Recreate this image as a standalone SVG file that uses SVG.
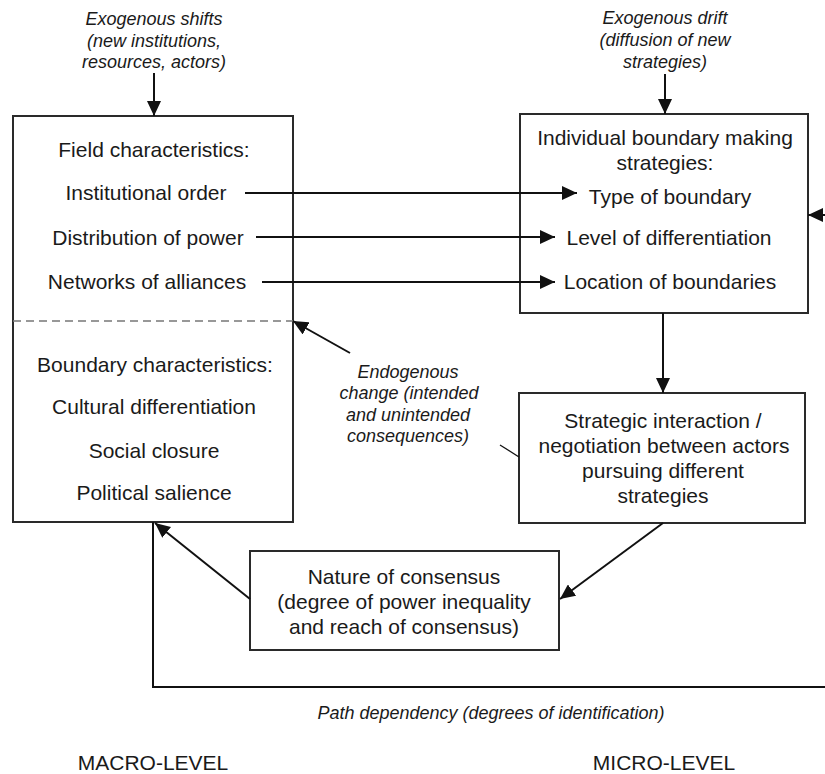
<svg xmlns="http://www.w3.org/2000/svg" width="825" height="774" viewBox="0 0 825 774">
<style>
.box{fill:#fff;stroke:#2a2a2a;stroke-width:2}
.t{font-family:"Liberation Sans",Arial,sans-serif;font-size:21px;fill:#1a1a1a;text-anchor:middle}
.i{font-family:"Liberation Sans",Arial,sans-serif;font-size:18px;font-style:italic;fill:#1a1a1a;text-anchor:middle}
.c{fill:none;stroke:#111;stroke-width:2}
.a{marker-end:url(#ah)}
</style>
<defs>
<marker id="ah" markerUnits="userSpaceOnUse" markerWidth="16" markerHeight="14" refX="15" refY="7" orient="auto">
<path d="M0,0 L15,7 L0,14 z" fill="#111"/>
</marker>
</defs>
<rect width="825" height="774" fill="#fff"/>

<g id="exo-shifts">
<text class="i" x="154" y="25">Exogenous shifts</text>
<text class="i" x="154" y="47">(new institutions,</text>
<text class="i" x="154" y="68">resources, actors)</text>
</g>
<g id="exo-drift">
<text class="i" x="665" y="24">Exogenous drift</text>
<text class="i" x="665" y="46">(diffusion of new</text>
<text class="i" x="665" y="68">strategies)</text>
</g>

<g id="macro-box">
<rect class="box" x="13" y="116" width="280" height="406"/>
<line x1="13" y1="321" x2="293" y2="321" stroke="#777" stroke-width="1.5" stroke-dasharray="8,5"/>
<text class="t" x="154" y="157">Field characteristics:</text>
<text class="t" x="146" y="200">Institutional order</text>
<text class="t" x="148" y="245">Distribution of power</text>
<text class="t" x="147" y="289">Networks of alliances</text>
<text class="t" x="155" y="372">Boundary characteristics:</text>
<text class="t" x="154" y="414">Cultural differentiation</text>
<text class="t" x="154" y="458">Social closure</text>
<text class="t" x="154" y="500">Political salience</text>
</g>

<g id="strategies-box">
<rect class="box" x="520" y="114" width="288" height="199"/>
<text class="t" x="665" y="145">Individual boundary making</text>
<text class="t" x="665" y="170">strategies:</text>
<text class="t" x="670" y="204">Type of boundary</text>
<text class="t" x="669" y="245">Level of differentiation</text>
<text class="t" x="670" y="289">Location of boundaries</text>
</g>

<g id="interaction-box">
<rect class="box" x="519" y="393" width="286" height="130"/>
<text class="t" x="663" y="428">Strategic interaction /</text>
<text class="t" x="664" y="453">negotiation between actors</text>
<text class="t" x="663" y="478">pursuing different</text>
<text class="t" x="663" y="503">strategies</text>
</g>

<g id="consensus-box">
<rect class="box" x="250" y="551" width="309" height="99"/>
<text class="t" x="404" y="584">Nature of consensus</text>
<text class="t" x="404" y="609">(degree of power inequality</text>
<text class="t" x="404" y="634">and reach of consensus)</text>
</g>

<g id="endogenous-label">
<text class="i" x="408" y="378">Endogenous</text>
<text class="i" x="409" y="399">change (intended</text>
<text class="i" x="408" y="421">and unintended</text>
<text class="i" x="408" y="442">consequences)</text>
</g>

<g id="path-label">
<text class="i" x="491" y="719">Path dependency (degrees of identification)</text>
</g>

<g id="level-labels">
<text class="t" x="153" y="770">MACRO-LEVEL</text>
<text class="t" x="664" y="770">MICRO-LEVEL</text>
</g>

<g id="connectors">
<line class="c a" x1="154" y1="73" x2="154" y2="116"/>
<line class="c a" x1="665" y1="74" x2="665" y2="114"/>
<line class="c a" x1="245" y1="193" x2="577" y2="193"/>
<line class="c a" x1="256" y1="237" x2="555" y2="237"/>
<line class="c a" x1="262" y1="282" x2="555" y2="282"/>
<line class="c a" x1="826" y1="215" x2="808" y2="215"/>
<line class="c a" x1="663" y1="313" x2="663" y2="393"/>
<line class="c a" x1="350" y1="353" x2="293" y2="321"/>
<line x1="500" y1="445" x2="519" y2="457" stroke="#111" stroke-width="1.3"/>
<line class="c a" x1="663" y1="523" x2="560" y2="599"/>
<line class="c a" x1="250" y1="599" x2="155" y2="523"/>
<polyline class="c" points="153,522 153,687 826,687"/>
</g>
</svg>
